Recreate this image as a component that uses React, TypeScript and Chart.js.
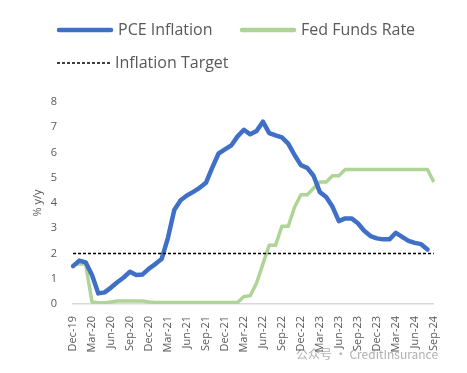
import React, { useEffect, useRef } from "react";
import { Chart, registerables } from "chart.js";

Chart.register(...registerables);

const MONTHS = ["Jan", "Feb", "Mar", "Apr", "May", "Jun", "Jul", "Aug", "Sep", "Oct", "Nov", "Dec"];
const START_YEAR = 2019;
const START_MONTH = 11; // Dec
const MONTH_COUNT = 58; // Dec-19 .. Sep-24

const categories: string[] = [];
for (let i = 0; i < MONTH_COUNT; i++) {
  const m = (START_MONTH + i) % 12;
  const y = START_YEAR + Math.floor((START_MONTH + i) / 12);
  categories.push(`${MONTHS[m]}-${String(y % 100).padStart(2, "0")}`);
}

const pceInflation: (number | null)[] = [
  1.5, 1.72, 1.65, 1.15, 0.42, 0.46, 0.65, 0.86, 1.05, 1.28,
  1.15, 1.17, 1.4, 1.58, 1.78, 2.62, 3.72, 4.11, 4.3, 4.44,
  4.6, 4.8, 5.4, 5.96, 6.12, 6.28, 6.64, 6.9, 6.72, 6.85,
  7.22, 6.77, 6.68, 6.6, 6.35, 5.9, 5.5, 5.39, 5.08, 4.43,
  4.24, 3.85, 3.28, 3.39, 3.39, 3.2, 2.9, 2.69, 2.6, 2.56,
  2.56, 2.82, 2.66, 2.5, 2.42, 2.37, 2.16, null,
];

const fedFundsRate: number[] = [
  1.55, 1.58, 1.58, 0.08, 0.05, 0.05, 0.08, 0.12, 0.12, 0.12,
  0.12, 0.12, 0.08, 0.06, 0.06, 0.06, 0.06, 0.06, 0.06, 0.06,
  0.06, 0.06, 0.06, 0.06, 0.06, 0.06, 0.06, 0.3, 0.33, 0.83,
  1.58, 2.33, 2.33, 3.08, 3.08, 3.83, 4.33, 4.33, 4.58, 4.83,
  4.83, 5.08, 5.08, 5.33, 5.33, 5.33, 5.33, 5.33, 5.33, 5.33,
  5.33, 5.33, 5.33, 5.33, 5.33, 5.33, 5.33, 4.83,
];

const inflationTarget: number[] = categories.map(() => 2);

const yTicks = [0, 1, 2, 3, 4, 5, 6, 7, 8];

const FONT = "'Open Sans', 'Noto Sans', sans-serif";
const TEXT_COLOR = "#595959";
const BLUE = "#3F6FC6";
const GREEN = "#AFD498";

const legendPlugin = {
  id: "customLegend",
  afterDraw(chart: any) {
    const ctx = chart.ctx as CanvasRenderingContext2D;
    const items = [
      { ds: 0, x: 49, y: 22, len: 56 },
      { ds: 1, x: 232, y: 22, len: 56 },
      { ds: 2, x: 49, y: 55, len: 53 },
    ];
    ctx.save();
    for (const it of items) {
      const ds = chart.data.datasets[it.ds];
      ctx.beginPath();
      ctx.strokeStyle = ds.borderColor;
      ctx.lineWidth = it.ds === 2 ? 1.5 : 4.5;
      ctx.lineCap = it.ds === 2 ? "butt" : "round";
      ctx.setLineDash(ds.borderDash || []);
      ctx.moveTo(it.x + (it.ds === 2 ? 0 : 2), it.y);
      ctx.lineTo(it.x + it.len - (it.ds === 2 ? 0 : 2), it.y);
      ctx.stroke();
      ctx.setLineDash([]);
      ctx.fillStyle = TEXT_COLOR;
      ctx.font = `16px ${FONT}`;
      ctx.textBaseline = "middle";
      ctx.textAlign = "left";
      ctx.fillText(ds.label, it.x + it.len + 5, it.y);
    }
    ctx.restore();
  },
};

function ChartView() {
  const canvasRef = useRef<HTMLCanvasElement | null>(null);

  useEffect(() => {
    if (!canvasRef.current) return;
    const chart = new Chart(canvasRef.current, {
      type: "line",
      data: {
        labels: categories,
        datasets: [
          {
            label: "PCE Inflation",
            data: pceInflation,
            borderColor: BLUE,
            backgroundColor: BLUE,
            borderWidth: 4.5,
            pointRadius: 0,
            tension: 0,
            borderJoinStyle: "round",
            borderCapStyle: "round",
            order: 1,
          },
          {
            label: "Fed Funds Rate",
            data: fedFundsRate,
            borderColor: GREEN,
            backgroundColor: GREEN,
            borderWidth: 3.5,
            pointRadius: 0,
            tension: 0,
            borderJoinStyle: "round",
            order: 2,
          },
          {
            label: "Inflation Target",
            data: inflationTarget,
            borderColor: "#000000",
            backgroundColor: "#000000",
            borderWidth: 1.5,
            borderDash: [3, 2],
            pointRadius: 0,
            tension: 0,
            order: 0,
          },
        ],
      },
      options: {
        animation: false,
        responsive: true,
        maintainAspectRatio: false,
        layout: { padding: { top: 94, right: 17, left: 0, bottom: 0 } },
        plugins: {
          legend: { display: false },
          tooltip: { enabled: false },
        },
        scales: {
          x: {
            type: "category",
            offset: false,
            grid: { display: false, drawTicks: false },
            border: { display: true, color: "#D9D9D9", width: 1.5 },
            ticks: {
              autoSkip: false,
              minRotation: 90,
              maxRotation: 90,
              padding: 12,
              color: TEXT_COLOR,
              font: { family: FONT, size: 11 },
              callback: function (this: any, value: any, index: number) {
                return index % 3 === 0 ? categories[index] : "";
              },
            },
            afterFit: (scale: any) => {
              scale.height = 61;
            },
          },
          y: {
            min: 0,
            max: 8,
            grid: { display: false, drawTicks: false },
            border: { display: false },
            afterBuildTicks: (scale: any) => {
              scale.ticks = yTicks.map((v) => ({ value: v }));
            },
            ticks: {
              padding: 16,
              color: TEXT_COLOR,
              font: { family: FONT, size: 11 },
            },
            title: {
              display: true,
              text: "% y/y",
              color: TEXT_COLOR,
              font: { family: FONT, size: 11 },
              padding: { top: 23, bottom: 0 },
            },
            afterFit: (scale: any) => {
              scale.width = 65;
            },
          },
        },
      },
      plugins: [legendPlugin],
    });
    return () => chart.destroy();
  }, []);

  return (
    <div style={{ position: "relative", width: 451, height: 357 }}>
      <canvas ref={canvasRef} />
      <div
        style={{
          position: "absolute",
          left: 288,
          top: 337,
          fontFamily: "'Noto Sans CJK SC', 'Open Sans', sans-serif",
          fontSize: 12,
          color: "rgba(110,110,110,0.55)",
          whiteSpace: "nowrap",
          pointerEvents: "none",
        }}
      >
        公众号 · CreditInsurance
      </div>
    </div>
  );
}

export default function App() {
  return <ChartView />;
}
